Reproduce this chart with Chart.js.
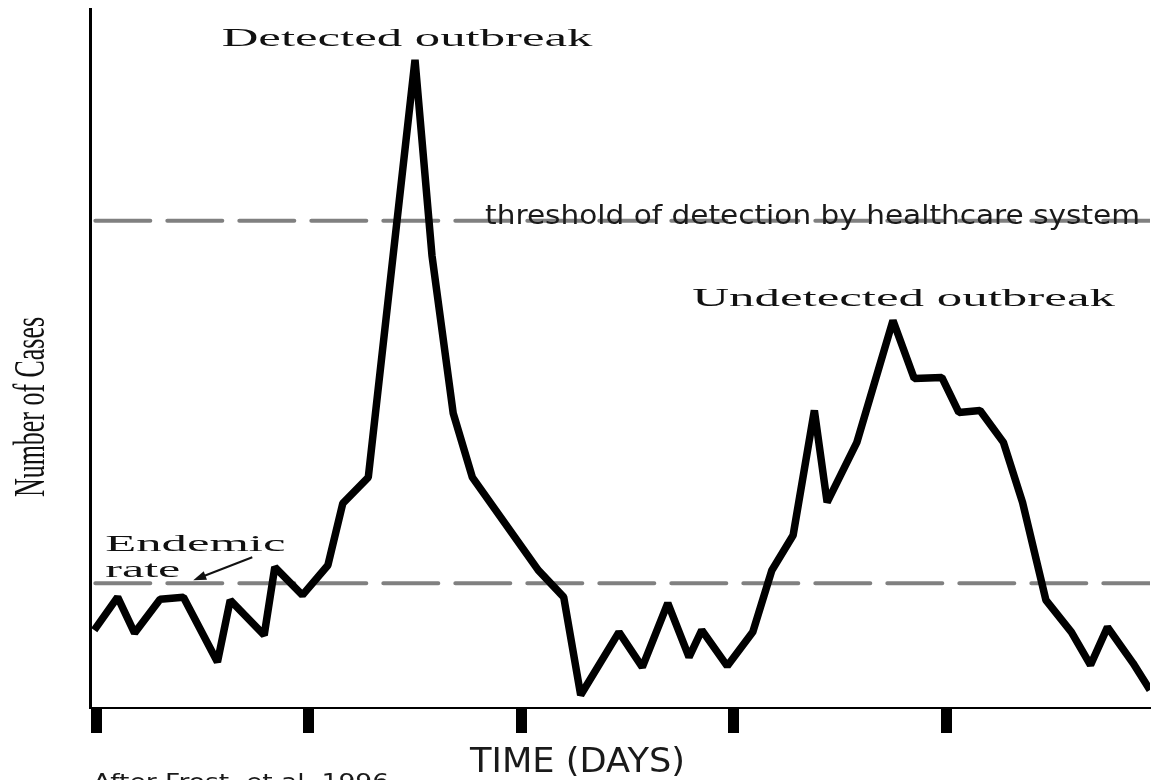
<!DOCTYPE html>
<html>
<head>
    <title>Outbreak detection</title>
    <script src="https://cdn.jsdelivr.net/npm/chart.js"></script>
</head>
<body style="margin:0; background-color:white;">
    <div style="width:1156px; height:780px;">
        <canvas id="outbreakChart"></canvas>
    </div>

    <script>
        // time in days, cases in arbitrary units
        const days = [-0.1, 1.0, 1.8, 3.0, 4.1, 5.7, 6.3, 7.9, 8.4, 9.7, 10.9, 11.6, 12.8, 15.0, 15.8, 16.8,
            17.7, 20.8, 22.0, 22.8, 24.6, 25.7, 26.9, 27.9, 28.5, 29.7, 30.9, 31.8, 32.8, 33.8, 34.4, 35.8,
            37.5, 38.5, 39.8, 40.6, 41.6, 42.7, 43.6, 44.7, 45.9, 46.8, 47.6, 48.8, 49.6];
        const cases = [7.8, 11.1, 7.5, 10.9, 11.1, 4.6, 10.8, 7.3, 14.1, 11.3, 14.3, 20.5, 23.1, 64.9, 45.3, 29.5,
            23.1, 13.8, 11.1, 1.3, 7.6, 4.1, 10.5, 5.1, 7.8, 4.2, 7.6, 13.8, 17.3, 29.8, 20.6, 26.6,
            38.8, 33.0, 33.1, 29.6, 29.8, 26.6, 20.6, 10.8, 7.6, 4.3, 8.1, 4.5, 1.8];
        const thresholdLevel = 48.8;
        const endemicLevel = 12.5;
        const dayTicks = [0, 10, 20, 30, 40];
        const dayRange = [-0.3, 49.6];
        const caseRange = [0, 70];

        const points = days.map((d, i) => ({ x: d, y: cases[i] }));
        const levelLine = v => [{ x: -0.05, y: v }, { x: dayRange[1], y: v }];

        const SERIF = '"Liberation Serif", "Times New Roman", serif';
        const SANS = '"DejaVu Sans", Verdana, sans-serif';

        // draw text stretched to fill a given width
        function fitText(ctx, text, font, left, right, baseline, color) {
            ctx.save();
            ctx.font = font;
            ctx.fillStyle = color;
            ctx.textBaseline = 'alphabetic';
            ctx.textAlign = 'left';
            const w = ctx.measureText(text).width;
            ctx.translate(left, baseline);
            ctx.scale((right - left) / w, 1);
            ctx.fillText(text, 0, 0);
            ctx.restore();
        }

        const labelsPlugin = {
            id: 'labels',
            afterDraw(chart) {
                const ctx = chart.ctx;
                const x = chart.scales.x, y = chart.scales.y;
                const px = v => x.getPixelForValue(v), py = v => y.getPixelForValue(v);

                fitText(ctx, 'Detected outbreak', '26px ' + SERIF, px(5.9), px(23.35), py(66.3), '#111');
                fitText(ctx, 'Undetected outbreak', '26px ' + SERIF, px(28.05), px(47.95), py(40.3), '#111');
                fitText(ctx, 'threshold of detection by healthcare system', '26px ' + SANS, px(18.3), px(49.13), py(48.5), '#1a1a1a');
                fitText(ctx, 'Endemic', '24px ' + SERIF, px(0.42), px(8.9), py(15.7), '#111');
                fitText(ctx, 'rate', '24px ' + SERIF, px(0.42), px(3.95), py(13.1), '#111');

                // arrow pointing at the endemic line
                const x1 = px(7.34), y1 = py(15.1), x2 = px(4.56), y2 = py(12.8);
                const a = Math.atan2(y2 - y1, x2 - x1);
                ctx.save();
                ctx.strokeStyle = '#111';
                ctx.fillStyle = '#111';
                ctx.lineWidth = 2;
                ctx.beginPath();
                ctx.moveTo(x1, y1);
                ctx.lineTo(x2 - 8 * Math.cos(a), y2 - 8 * Math.sin(a));
                ctx.stroke();
                ctx.beginPath();
                ctx.moveTo(x2, y2);
                ctx.lineTo(x2 - 13 * Math.cos(a) + 4.5 * Math.sin(a), y2 - 13 * Math.sin(a) - 4.5 * Math.cos(a));
                ctx.lineTo(x2 - 13 * Math.cos(a) - 4.5 * Math.sin(a), y2 - 13 * Math.sin(a) + 4.5 * Math.cos(a));
                ctx.closePath();
                ctx.fill();
                ctx.restore();

                // axis titles
                ctx.save();
                ctx.font = '45px ' + SERIF;
                ctx.fillStyle = '#111';
                const w = ctx.measureText('Number of Cases').width;
                ctx.translate(44, 497);
                ctx.rotate(-Math.PI / 2);
                ctx.scale(180 / w, 1);
                ctx.fillText('Number of Cases', 0, 0);
                ctx.restore();

                fitText(ctx, 'TIME (DAYS)', '33px ' + SANS, 470, 685, 772, '#1a1a1a');
                fitText(ctx, 'After Frost, et al. 1996', '22px ' + SANS, 93, 389, 789, '#1a1a1a');
            }
        };

        new Chart(document.getElementById('outbreakChart'), {
            type: 'line',
            data: {
                datasets: [
                    { data: points, borderColor: '#000', borderWidth: 7.5, borderJoinStyle: 'bevel', pointRadius: 0, tension: 0 },
                    { data: levelLine(thresholdLevel), borderColor: '#808080', borderWidth: 4, borderDash: [55, 17], borderCapStyle: 'round', pointRadius: 0 },
                    { data: levelLine(endemicLevel), borderColor: '#808080', borderWidth: 4, borderDash: [55, 17], borderCapStyle: 'round', pointRadius: 0 }
                ]
            },
            options: {
                responsive: true,
                maintainAspectRatio: false,
                animation: false,
                layout: { padding: { left: 82, right: 6, top: 9, bottom: 47 } },
                plugins: { legend: { display: false }, tooltip: { enabled: false } },
                scales: {
                    x: {
                        type: 'linear',
                        min: dayRange[0],
                        max: dayRange[1],
                        afterBuildTicks: s => { s.ticks = dayTicks.map(v => ({ value: v })); },
                        ticks: { display: false },
                        grid: { display: true, drawOnChartArea: false, drawTicks: true, tickLength: 25, tickWidth: 11, tickColor: '#000' },
                        border: { display: true, color: '#000', width: 2 }
                    },
                    y: {
                        min: caseRange[0],
                        max: caseRange[1],
                        ticks: { display: false },
                        grid: { display: false },
                        border: { display: true, color: '#000', width: 3 }
                    }
                }
            },
            plugins: [labelsPlugin]
        });
    </script>
</body>
</html>
